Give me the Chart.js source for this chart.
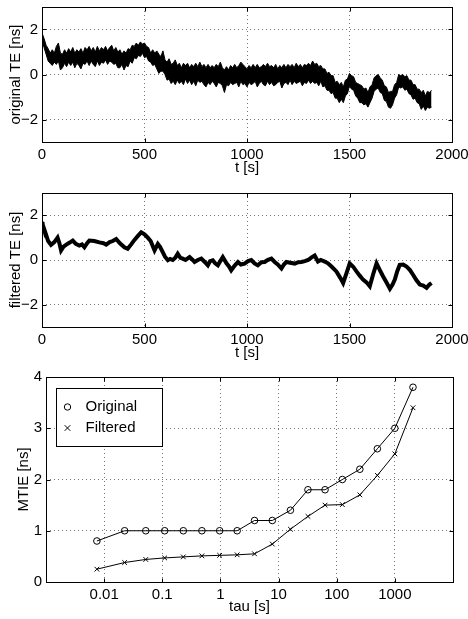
<!DOCTYPE html>
<html><head><meta charset="utf-8">
<script src="https://cdn.jsdelivr.net/npm/chart.js@4/dist/chart.umd.min.js"></script>
<style>
html,body{margin:0;padding:0;background:#fff;width:468px;height:619px;overflow:hidden}
canvas{position:absolute;left:0}
</style></head><body>
<canvas id="c1" width="468" height="182" style="top:0px"></canvas>
<canvas id="c2" width="468" height="182" style="top:182px"></canvas>
<canvas id="c3" width="468" height="255" style="top:364px"></canvas>
<script>
// ---- data ----
const sampleStep = 10; // seconds between envelope samples of the original TE band
const origUpper = [
 1.85,1.6,1.3,1.15,0.95,1.1,0.95,1.25,1.4,0.95,
 0.9,1.1,0.95,1.15,1.0,1.2,0.95,1.1,1.0,1.15,
 0.95,1.2,1.1,1.25,1.05,1.2,1.0,1.25,1.05,1.2,
 1.1,1.25,1.05,1.2,1.3,1.05,1.2,1.0,1.1,0.9,
 1.05,0.95,1.15,1.1,1.3,1.25,1.4,1.3,1.45,1.35,
 1.4,1.25,1.2,0.95,1.1,0.95,1.05,0.9,0.8,1.05,
 0.65,0.55,0.7,0.45,0.5,0.65,0.4,0.5,0.3,0.5,
 0.4,0.5,0.3,0.45,0.35,0.5,0.35,0.55,0.35,0.45,
 0.3,0.45,0.3,0.4,0.3,0.45,0.35,0.55,0.3,0.2,
 0.35,0.2,0.4,0.3,0.45,0.3,0.4,0.55,0.45,0.35,
 0.25,0.4,0.3,0.45,0.3,0.45,0.3,0.35,0.45,0.35,
 0.5,0.35,0.4,0.3,0.45,0.25,0.4,0.3,0.45,0.3,
 0.45,0.35,0.45,0.3,0.5,0.35,0.45,0.3,0.45,0.4,
 0.5,0.4,0.6,0.45,0.5,0.35,0.4,0.25,0.25,0.05,
 0.1,-0.05,-0.05,-0.35,-0.3,-0.45,-0.35,-0.55,-0.25,-0.2,
 0.05,-0.05,-0.1,-0.35,-0.4,-0.45,-0.5,-0.65,-0.6,-0.8,
 -0.55,-0.45,-0.15,-0.05,0.0,-0.15,-0.25,-0.5,-0.55,-0.8,
 -0.75,-0.75,-0.45,-0.35,0.0,-0.05,0.0,-0.1,-0.05,-0.25,
 -0.25,-0.45,-0.45,-0.65,-0.65,-0.8,-0.7,-0.95,-0.75,-0.8,
 -0.7
];
const origLower = [
 1.5,1.2,0.9,0.6,0.5,0.4,0.55,0.45,0.6,0.2,
 0.3,0.5,0.35,0.55,0.4,0.55,0.3,0.5,0.4,0.25,
 0.5,0.45,0.6,0.4,0.6,0.45,0.35,0.6,0.4,0.55,
 0.5,0.65,0.45,0.6,0.55,0.45,0.5,0.3,0.3,0.45,
 0.2,0.4,0.35,0.6,0.5,0.75,0.7,0.85,0.8,0.95,
 0.75,0.8,0.6,0.55,0.4,0.45,0.25,0.05,0.15,0.15,
 0.0,-0.25,-0.2,-0.4,-0.3,-0.45,-0.25,-0.4,-0.3,-0.45,
 -0.2,-0.4,-0.25,-0.45,-0.3,-0.5,-0.25,-0.35,-0.3,-0.45,
 -0.55,-0.35,-0.45,-0.3,-0.4,-0.55,-0.35,-0.4,-0.5,-0.8,
 -0.45,-0.5,-0.35,-0.45,-0.4,-0.35,-0.55,-0.3,-0.45,-0.4,
 -0.55,-0.35,-0.45,-0.4,-0.3,-0.55,-0.4,-0.3,-0.45,-0.5,
 -0.3,-0.45,-0.35,-0.5,-0.45,-0.35,-0.3,-0.6,-0.4,-0.35,
 -0.45,-0.25,-0.45,-0.3,-0.4,-0.35,-0.3,-0.5,-0.35,-0.4,
 -0.25,-0.4,-0.3,-0.4,-0.35,-0.5,-0.3,-0.55,-0.5,-0.7,
 -0.7,-0.85,-0.8,-1.05,-1.05,-1.25,-1.1,-1.25,-0.95,-0.85,
 -0.5,-0.65,-0.7,-0.95,-1.05,-1.25,-1.25,-1.35,-1.3,-1.45,
 -1.25,-1.05,-0.75,-0.65,-0.6,-0.8,-0.85,-1.15,-1.2,-1.45,
 -1.5,-1.35,-1.05,-0.9,-0.55,-0.6,-0.55,-0.7,-0.65,-0.85,
 -0.9,-1.1,-1.05,-1.25,-1.3,-1.55,-1.4,-1.6,-1.45,-1.5,
 -1.45
];
const filtT = [
 0,3,10,19,30,44,60,76,85,93,
 105,117,135,150,165,182,195,207,220,231,
 255,280,300,313,330,345,362,380,402,418,
 435,451,470,484,500,516,530,549,565,575,
 589,600,614,625,638,650,662,675,687,700,
 720,735,744,760,777,795,809,820,833,845,
 858,870,882,900,913,923,940,956,970,988,
 1005,1021,1037,1053,1070,1086,1100,1119,1135,1150,
 1168,1180,1192,1210,1233,1250,1265,1282,1298,1315,
 1330,1346,1360,1379,1395,1412,1436,1455,1469,1485,
 1501,1518,1534,1550,1566,1583,1599,1615,1632,1648,
 1664,1680,1697,1710,1721,1733,1745,1762,1778,1795,
 1810,1826,1843,1860,1876,1890,1900
];
const filtV = [
 1.7,1.6,1.4,1.16,0.85,0.68,0.8,1.0,0.75,0.43,
 0.6,0.68,0.78,0.87,0.72,0.65,0.7,0.57,0.75,0.87,
 0.85,0.79,0.75,0.69,0.8,0.85,0.94,0.75,0.57,0.5,
 0.7,0.9,1.1,1.24,1.15,1.0,0.85,0.43,0.72,0.6,
 0.35,0.15,-0.01,0.05,0.0,0.1,0.28,0.1,0.06,0.0,
 0.13,0.0,-0.09,0.0,0.06,-0.1,-0.24,-0.05,-0.01,-0.15,
 -0.24,-0.05,0.13,-0.15,-0.3,-0.46,-0.25,-0.09,-0.2,-0.16,
 -0.05,0.0,-0.15,-0.24,-0.1,-0.09,0.0,0.06,-0.09,-0.2,
 -0.38,-0.2,-0.09,-0.12,-0.16,-0.1,-0.09,-0.05,0.0,0.12,
 0.2,-0.07,0.0,-0.07,-0.15,-0.29,-0.51,-0.8,-1.03,-0.6,
 -0.15,-0.3,-0.51,-0.7,-0.88,-1.0,-1.18,-0.65,-0.15,-0.45,
 -0.74,-1.0,-1.29,-1.1,-0.88,-0.5,-0.22,-0.2,-0.29,-0.45,
 -0.66,-0.9,-1.1,-1.15,-1.25,-1.1,-1.03
];
const tau = [0.0075,0.0225,0.052,0.11,0.23,0.48,0.97,1.94,3.86,7.8,16,32,63,125,250,500,1000,2050];
const mtieOriginal = [0.8,1,1,1,1,1,1,1,1.2,1.2,1.4,1.8,1.8,2.0,2.2,2.6,3.0,3.8];
const mtieFiltered = [0.25,0.38,0.44,0.47,0.49,0.51,0.52,0.53,0.55,0.74,1.03,1.28,1.50,1.51,1.70,2.08,2.50,3.40];
const timeTicks = [0,500,1000,1500,2000];
const teTicks = [-2,0,2];
const tauTicks = [0.01,0.1,1,10,100,1000];
const mtieTicks = [0,1,2,3,4];

// ---- drawing ----
const FONT = {family: '"Liberation Sans", Arial, Helvetica, sans-serif', size: 15};
Chart.defaults.font.family = FONT.family;
Chart.defaults.font.size = FONT.size;
Chart.defaults.color = '#000';

const fmt = v => (v < 0 ? '\u2212' + Math.abs(v) : String(v));

const frame = {
  id: 'frame',
  afterDatasetsDraw(chart) {
    const {ctx, chartArea: a, scales: {x, y}} = chart;
    const L = Math.round(a.left) + 0.5, R = Math.round(a.right) + 0.5;
    const T = Math.round(a.top) + 0.5, B = Math.round(a.bottom) + 0.5;
    const len = 4;
    ctx.save();
    ctx.strokeStyle = '#000';
    ctx.lineWidth = 1;
    ctx.setLineDash([]);
    ctx.beginPath();
    x.ticks.forEach(t => {
      const p = Math.round(x.getPixelForValue(t.value)) + 0.5;
      ctx.moveTo(p, B); ctx.lineTo(p, B - len);
      ctx.moveTo(p, T); ctx.lineTo(p, T + len);
    });
    y.ticks.forEach(t => {
      const p = Math.round(y.getPixelForValue(t.value)) + 0.5;
      ctx.moveTo(L, p); ctx.lineTo(L + len, p);
      ctx.moveTo(R, p); ctx.lineTo(R - len, p);
    });
    ctx.stroke();
    ctx.strokeRect(L, T, R - L, B - T);
    ctx.restore();
  }
};

const legendBox = {
  id: 'legendBox',
  afterDraw(chart) {
    const {ctx, chartArea: a} = chart;
    const x0 = Math.round(a.left) + 10.5, y0 = Math.round(a.top) + 11.5, w = 106, h = 58;
    ctx.save();
    ctx.fillStyle = '#fff';
    ctx.fillRect(x0, y0, w, h);
    ctx.strokeStyle = '#000';
    ctx.lineWidth = 1;
    ctx.strokeRect(x0, y0, w, h);
    chart.data.datasets.forEach((ds, i) => {
      const cy = y0 + 18.5 + i * 21;
      const cx = x0 + 11;
      ctx.beginPath();
      if (ds.pointStyle === 'circle') {
        ctx.arc(cx, cy, 3.2, 0, Math.PI * 2);
      } else {
        const r = 2.8;
        ctx.moveTo(cx - r, cy - r); ctx.lineTo(cx + r, cy + r);
        ctx.moveTo(cx - r, cy + r); ctx.lineTo(cx + r, cy - r);
      }
      ctx.stroke();
      ctx.fillStyle = '#000';
      ctx.font = FONT.size + 'px ' + FONT.family;
      ctx.textBaseline = 'middle';
      ctx.textAlign = 'left';
      ctx.fillText(ds.label, x0 + 29, cy);
    });
    ctx.restore();
  }
};

const gridOpts = {color: '#777', lineWidth: 1, drawTicks: false};
const borderOpts = {display: false, dash: [1, 3]};

function timeChart(id, yTitle, datasets, pad, xHeight, titlePadBottom) {
  return new Chart(document.getElementById(id), {
    type: 'line',
    data: {datasets},
    options: {
      responsive: false, animation: false, devicePixelRatio: 1,
      layout: {padding: {left: 0, right: 16, top: pad, bottom: 0}},
      plugins: {legend: {display: false}, tooltip: {enabled: false}},
      elements: {point: {radius: 0}, line: {tension: 0}},
      scales: {
        x: {
          type: 'linear', min: 0, max: 2000,
          afterBuildTicks: s => { s.ticks = timeTicks.map(v => ({value: v})); },
          afterFit: s => { s.height = xHeight; s.paddingLeft = 0; s.paddingRight = 0; },
          grid: gridOpts, border: borderOpts,
          ticks: {padding: 4, maxRotation: 0, autoSkip: false, callback: fmt},
          title: {display: true, text: 't [s]', padding: {top: 0, bottom: titlePadBottom}}
        },
        y: {
          type: 'linear', min: -3, max: 3,
          afterBuildTicks: s => { s.ticks = teTicks.map(v => ({value: v})); },
          afterFit: s => { s.width = 42; s.paddingTop = 0; s.paddingBottom = 0; },
          grid: gridOpts, border: borderOpts,
          ticks: {padding: 4, callback: fmt},
          title: {display: true, text: yTitle, padding: {top: 7, bottom: 0}}
        }
      }
    },
    plugins: [frame]
  });
}

const origUpperPts = origUpper.map((v, i) => ({x: i * sampleStep, y: v}));
const origLowerPts = origLower.map((v, i) => ({x: i * sampleStep, y: v}));
timeChart('c1', 'original TE [ns]', [
  {data: origUpperPts, borderColor: '#000', borderWidth: 1, backgroundColor: '#000', fill: '+1'},
  {data: origLowerPts, borderColor: '#000', borderWidth: 1, fill: false}
], 7, 40, 5);

timeChart('c2', 'filtered TE [ns]', [
  {data: filtT.map((t, i) => ({x: t, y: filtV[i]})), borderColor: '#000', borderWidth: 4, fill: false}
], 11, 37, 2);

new Chart(document.getElementById('c3'), {
  type: 'line',
  data: {
    datasets: [
      {label: 'Original', data: tau.map((t, i) => ({x: t, y: mtieOriginal[i]})),
       borderColor: '#000', borderWidth: 1, pointStyle: 'circle', pointRadius: 3.3,
       pointBorderColor: '#000', pointBackgroundColor: 'rgba(0,0,0,0)', pointBorderWidth: 1},
      {label: 'Filtered', data: tau.map((t, i) => ({x: t, y: mtieFiltered[i]})),
       borderColor: '#000', borderWidth: 1, pointStyle: 'crossRot', pointRadius: 3.3,
       pointBorderColor: '#000', pointBorderWidth: 1}
    ]
  },
  options: {
    responsive: false, animation: false, devicePixelRatio: 1,
    layout: {padding: {left: 0, right: 15, top: 13, bottom: 0}},
    plugins: {legend: {display: false}, tooltip: {enabled: false}},
    elements: {line: {tension: 0}},
    scales: {
      x: {
        type: 'logarithmic', min: 0.001, max: 10000,
        afterBuildTicks: s => { s.ticks = tauTicks.map(v => ({value: v})); },
        afterFit: s => { s.height = 37; s.paddingLeft = 0; s.paddingRight = 0; },
        grid: gridOpts, border: borderOpts,
        ticks: {padding: 4, maxRotation: 0, autoSkip: false, callback: v => String(v)},
        title: {display: true, text: 'tau [s]', padding: {top: 0, bottom: 3}}
      },
      y: {
        type: 'linear', min: 0, max: 4,
        afterBuildTicks: s => { s.ticks = mtieTicks.map(v => ({value: v})); },
        afterFit: s => { s.width = 46; s.paddingTop = 0; s.paddingBottom = 0; },
        grid: gridOpts, border: borderOpts,
        ticks: {padding: 4, callback: fmt},
        title: {display: true, text: 'MTIE [ns]', padding: {top: 15, bottom: 0}}
      }
    }
  },
  plugins: [frame, legendBox]
});
</script>
</body></html>
